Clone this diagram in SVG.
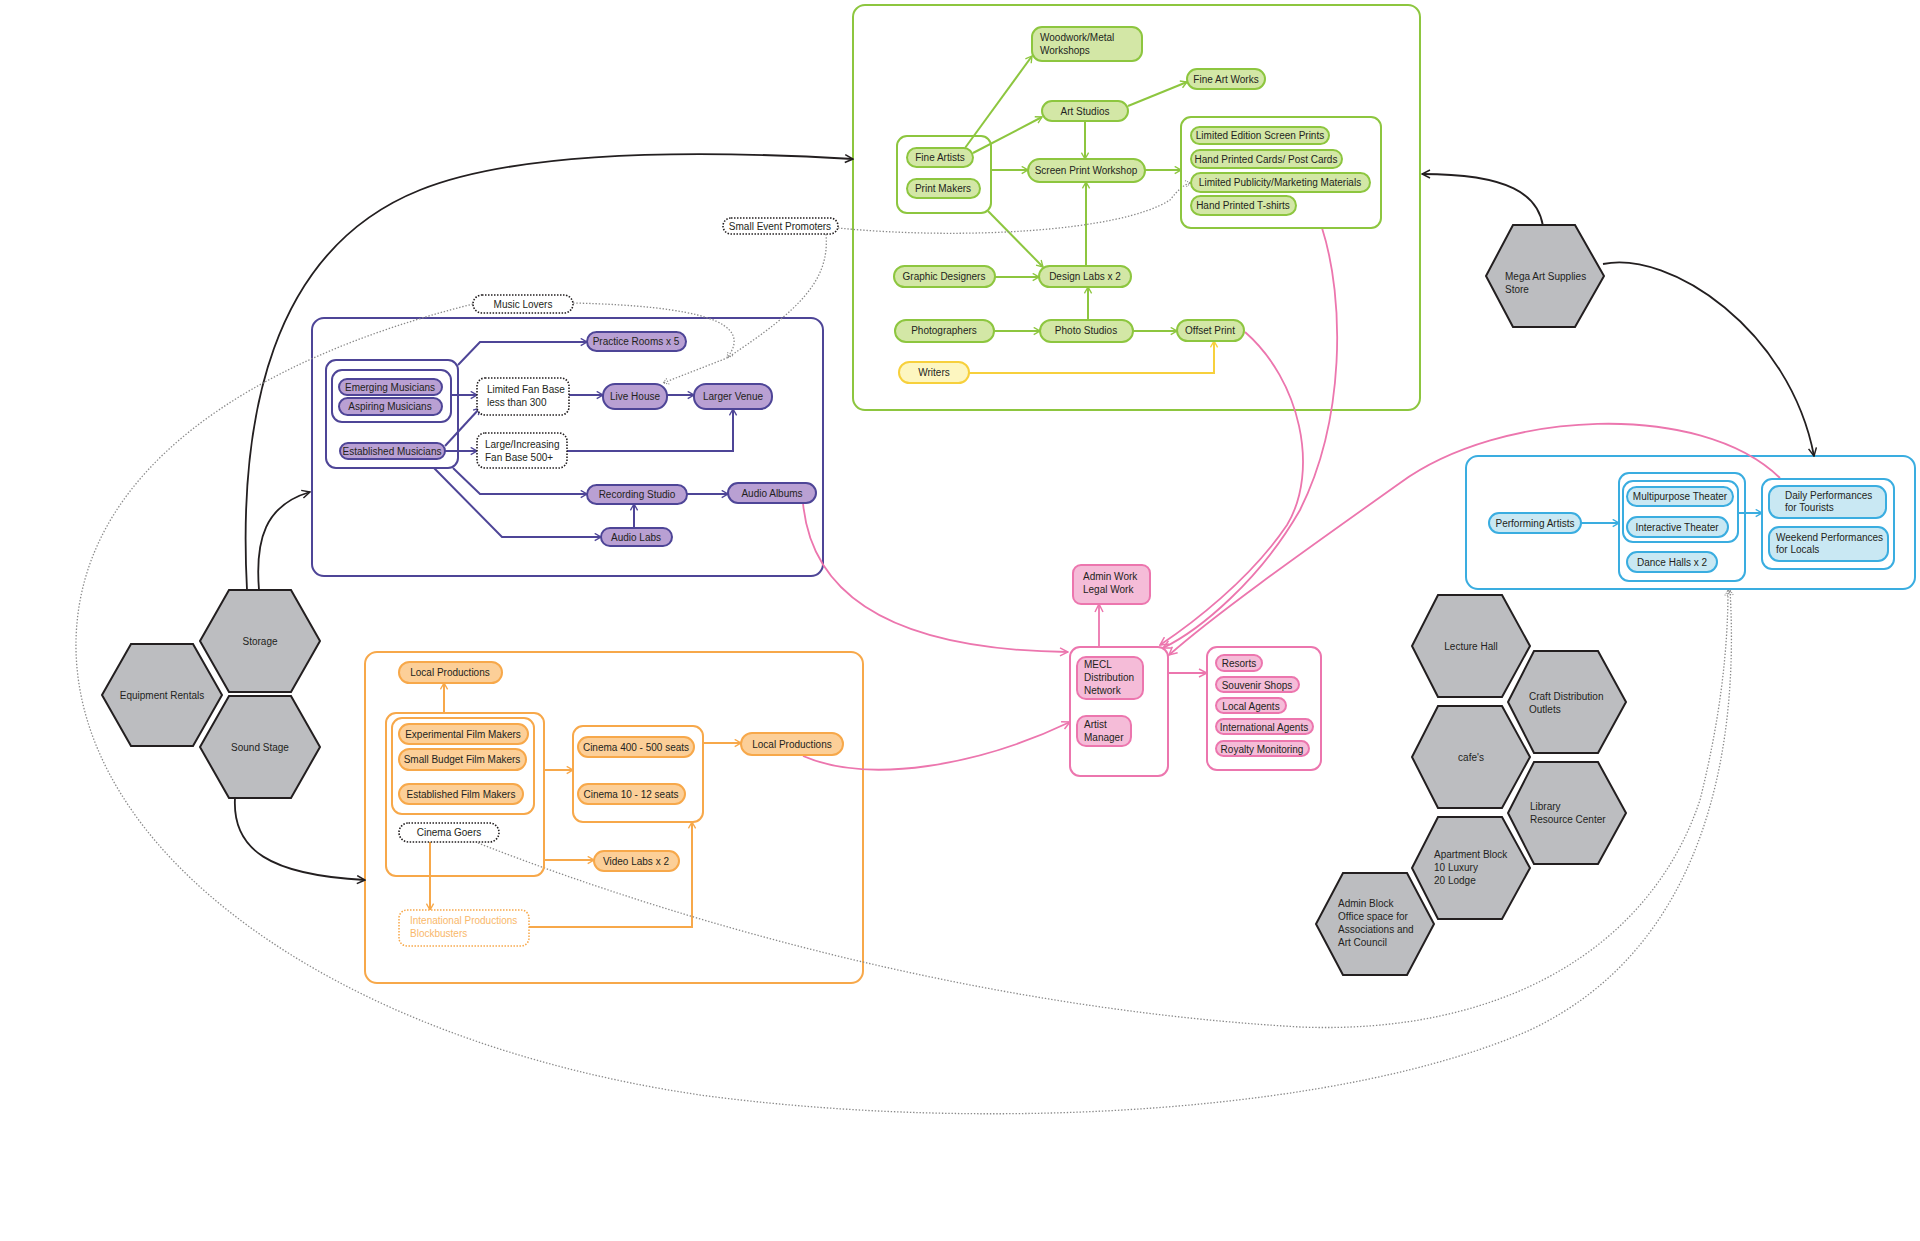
<svg xmlns="http://www.w3.org/2000/svg" width="1920" height="1241" viewBox="0 0 1920 1241">
<style>
.t{font-family:"Liberation Sans",Arial,sans-serif;font-size:10px;fill:#231f20}
.c{text-anchor:middle}
.gb{fill:none;stroke:#8dc63f;stroke-width:2}
.gp{fill:#d3e7a6;stroke:#8dc63f;stroke-width:2}
.yp{fill:#fdf6c0;stroke:#f7d03c;stroke-width:2}
.pb{fill:none;stroke:#4e4597;stroke-width:2}
.pp{fill:#b9a0d3;stroke:#4e4597;stroke-width:2}
.ob{fill:none;stroke:#f7a84a;stroke-width:2}
.op{fill:#fccf98;stroke:#f7a84a;stroke-width:2}
.od{fill:#fff;stroke:#f7a84a;stroke-width:1.5;stroke-dasharray:1.5 1.5}
.kb{fill:none;stroke:#ec76ae;stroke-width:2}
.kp{fill:#f5bcd8;stroke:#ec76ae;stroke-width:2}
.bb{fill:none;stroke:#3aade0;stroke-width:2}
.bp{fill:#c9e8f3;stroke:#3aade0;stroke-width:2}
.dn{fill:#fff;stroke:#231f20;stroke-width:1.6;stroke-dasharray:1.5 1.5}
.hx{fill:#bcbdc0;stroke:#231f20;stroke-width:2}
.lg{fill:none;stroke:#8dc63f;stroke-width:2;marker-end:url(#ag)}
.ly{fill:none;stroke:#f7d03c;stroke-width:2;marker-end:url(#ay)}
.lp{fill:none;stroke:#4e4597;stroke-width:2;marker-end:url(#ap)}
.lo{fill:none;stroke:#f7a84a;stroke-width:2;marker-end:url(#ao)}
.lk{fill:none;stroke:#ec76ae;stroke-width:1.8;marker-end:url(#ak)}
.lb{fill:none;stroke:#3aade0;stroke-width:2;marker-end:url(#ab)}
.lx{fill:none;stroke:#231f20;stroke-width:1.8;marker-end:url(#ax)}
.ld{fill:none;stroke:#8a8a8a;stroke-width:1.3;stroke-dasharray:1.4 1.8;marker-end:url(#ad)}
</style>
<defs>
<marker id="ag" viewBox="0 0 10 10" refX="9" refY="5" markerWidth="9" markerHeight="9" markerUnits="userSpaceOnUse" orient="auto"><path d="M2,1 L9,5 L2,9" fill="none" stroke="#8dc63f" stroke-width="1.5"/></marker>
<marker id="ay" viewBox="0 0 10 10" refX="9" refY="5" markerWidth="9" markerHeight="9" markerUnits="userSpaceOnUse" orient="auto"><path d="M2,1 L9,5 L2,9" fill="none" stroke="#f7d03c" stroke-width="1.5"/></marker>
<marker id="ap" viewBox="0 0 10 10" refX="9" refY="5" markerWidth="9" markerHeight="9" markerUnits="userSpaceOnUse" orient="auto"><path d="M2,1 L9,5 L2,9" fill="none" stroke="#4e4597" stroke-width="1.5"/></marker>
<marker id="ao" viewBox="0 0 10 10" refX="9" refY="5" markerWidth="9" markerHeight="9" markerUnits="userSpaceOnUse" orient="auto"><path d="M2,1 L9,5 L2,9" fill="none" stroke="#f7a84a" stroke-width="1.5"/></marker>
<marker id="ak" viewBox="0 0 10 10" refX="9" refY="5" markerWidth="10" markerHeight="10" markerUnits="userSpaceOnUse" orient="auto"><path d="M1,1 L9,5 L1,9" fill="none" stroke="#ec76ae" stroke-width="1.5"/></marker>
<marker id="ab" viewBox="0 0 10 10" refX="9" refY="5" markerWidth="9" markerHeight="9" markerUnits="userSpaceOnUse" orient="auto"><path d="M2,1 L9,5 L2,9" fill="none" stroke="#3aade0" stroke-width="1.5"/></marker>
<marker id="ax" viewBox="0 0 10 10" refX="9" refY="5" markerWidth="10" markerHeight="10" markerUnits="userSpaceOnUse" orient="auto"><path d="M1,1 L9,5 L1,9" fill="none" stroke="#231f20" stroke-width="1.5"/></marker>
<marker id="ad" viewBox="0 0 10 10" refX="9" refY="5" markerWidth="8" markerHeight="8" markerUnits="userSpaceOnUse" orient="auto"><path d="M2,1 L9,5 L2,9" fill="none" stroke="#8a8a8a" stroke-width="1.3" stroke-dasharray="1.4 1.4"/></marker>
</defs>
<rect x="0" y="0" width="1920" height="1241" fill="#fff"/>

<!-- containers -->
<g id="green-area"><rect class="gb" x="853" y="5" width="567" height="405" rx="12"/></g>
<g id="purple-area"><rect class="pb" x="312" y="318" width="511" height="258" rx="12"/></g>
<g id="orange-area"><rect class="ob" x="365" y="652" width="498" height="331" rx="12"/></g>
<g id="blue-area"><rect class="bb" x="1466" y="456" width="449" height="133" rx="12"/></g>

<!-- connectors -->
<g id="connectors">
<!-- green -->
<path class="lg" d="M965,148 L1032,56"/>
<path class="lg" d="M973,153 L1042,117"/>
<path class="lg" d="M991,170 L1028,170"/>
<path class="lg" d="M1085,121 L1085,159"/>
<path class="lg" d="M1128,106 L1187,82"/>
<path class="lg" d="M988,211 L1043,267"/>
<path class="lg" d="M995,277 L1039,277"/>
<path class="lg" d="M1086,266 L1086,182"/>
<path class="lg" d="M1088,320 L1088,287"/>
<path class="lg" d="M994,331 L1040,331"/>
<path class="lg" d="M1133,331 L1177,331"/>
<path class="lg" d="M1145,170 L1181,170"/>
<path class="ly" d="M969,373 L1214,373 L1214,341"/>
<!-- purple -->
<path class="lp" d="M458,365 L480,342 L587,342"/>
<path class="lp" d="M451,395 L477,395"/>
<path class="lp" d="M445,446 L480,408"/>
<path class="lp" d="M445,451 L477,451"/>
<path class="lp" d="M569,395 L603,395"/>
<path class="lp" d="M667,395 L694,395"/>
<path class="lp" d="M567,451 L733,451 L733,409"/>
<path class="lp" d="M453,468 L480,494 L587,494"/>
<path class="lp" d="M434,468 L502,537 L601,537"/>
<path class="lp" d="M634,528 L634,504"/>
<path class="lp" d="M687,494 L728,494"/>
<!-- orange -->
<path class="lo" d="M444,713 L444,683"/>
<path class="lo" d="M544,770 L573,770"/>
<path class="lo" d="M703,743 L741,743"/>
<path class="lo" d="M544,860 L594,860"/>
<path class="lo" d="M430,842 L430,910"/>
<path class="lo" d="M529,927 L692,927 L692,822"/>
<!-- pink -->
<path class="lk" d="M1099,647 L1099,604"/>
<path class="lk" d="M1168,673 L1207,673"/>
<path class="lk" d="M803,503 C812,600 900,650 1068,652"/>
<path class="lk" d="M803,756 C870,785 980,765 1070,722"/>
<path class="lk" d="M1245,332 C1300,380 1320,470 1287,525 C1250,580 1190,625 1160,645"/>
<path class="lk" d="M1322,228 C1345,300 1345,420 1300,510 C1260,580 1200,630 1163,648"/>
<path class="lk" d="M1780,478 C1700,400 1500,410 1400,483 C1320,540 1220,610 1169,655"/>
<!-- blue -->
<path class="lb" d="M1581,523 L1619,523"/>
<path class="lb" d="M1738,513 L1762,513"/>
<!-- black -->
<path class="lx" d="M1543,226 C1538,195 1510,174 1422,174"/>
<path class="lx" d="M1603,264 C1670,250 1790,330 1814,456"/>
<path class="lx" d="M247,590 C238,420 270,250 420,190 C520,150 700,150 853,159"/>
<path class="lx" d="M259,590 C255,540 265,505 310,492"/>
<path class="lx" d="M235,798 C232,850 270,875 365,880"/>
<!-- dotted -->
<path class="ld" d="M838,228 C960,240 1120,232 1170,200 C1178,190 1184,184 1191,183"/>
<path class="ld" d="M826,234 C830,280 800,310 727,358 L663,383"/>
<path class="ld" d="M573,303 C700,306 755,322 727,358"/>
<path class="ld" d="M473,304 C250,360 80,470 76,640 C72,850 330,1040 700,1095 C1000,1135 1350,1110 1530,1030 C1700,950 1740,760 1730,590"/>
<path class="ld" d="M478,843 C700,930 1000,1010 1300,1027 C1500,1035 1650,950 1700,800 C1720,720 1728,650 1728,590"/>
</g>

<!-- green nodes -->
<g id="woodwork"><rect class="gp" x="1032" y="27" width="110" height="34" rx="10"/><text class="t" x="1040" y="41">Woodwork/Metal</text><text class="t" x="1040" y="54">Workshops</text></g>
<g id="art-studios"><rect class="gp" x="1042" y="101" width="86" height="20" rx="10"/><text class="t c" x="1085" y="115">Art Studios</text></g>
<g id="fine-art-works"><rect class="gp" x="1187" y="69" width="78" height="20" rx="10"/><text class="t c" x="1226" y="83">Fine Art Works</text></g>
<g id="artists-group"><rect class="gb" x="897" y="136" width="94" height="77" rx="10"/></g>
<g id="fine-artists"><rect class="gp" x="907" y="148" width="66" height="19" rx="9.5"/><text class="t c" x="940" y="161">Fine Artists</text></g>
<g id="print-makers"><rect class="gp" x="907" y="179" width="73" height="19" rx="9.5"/><text class="t c" x="943" y="192">Print Makers</text></g>
<g id="screen-print"><rect class="gp" x="1028" y="159" width="117" height="23" rx="11.5"/><text class="t c" x="1086" y="174">Screen Print Workshop</text></g>
<g id="products-group"><rect class="gb" x="1181" y="117" width="200" height="111" rx="10"/></g>
<g id="limited-edition"><rect class="gp" x="1191" y="127" width="138" height="17" rx="8.5"/><text class="t c" x="1260" y="139">Limited Edition Screen Prints</text></g>
<g id="hand-cards"><rect class="gp" x="1191" y="150" width="151" height="18" rx="9"/><text class="t c" x="1266" y="163">Hand Printed Cards/ Post Cards</text></g>
<g id="limited-publicity"><rect class="gp" x="1191" y="173" width="179" height="19" rx="9.5"/><text class="t c" x="1280" y="186">Limited Publicity/Marketing Materials</text></g>
<g id="tshirts"><rect class="gp" x="1191" y="196" width="105" height="19" rx="9.5"/><text class="t c" x="1243" y="209">Hand Printed T-shirts</text></g>
<g id="graphic-designers"><rect class="gp" x="894" y="266" width="101" height="21" rx="10.5"/><text class="t c" x="944" y="280">Graphic Designers</text></g>
<g id="design-labs"><rect class="gp" x="1039" y="266" width="92" height="21" rx="10.5"/><text class="t c" x="1085" y="280">Design Labs x 2</text></g>
<g id="photographers"><rect class="gp" x="895" y="320" width="99" height="22" rx="11"/><text class="t c" x="944" y="334">Photographers</text></g>
<g id="photo-studios"><rect class="gp" x="1040" y="320" width="93" height="22" rx="11"/><text class="t c" x="1086" y="334">Photo Studios</text></g>
<g id="offset-print"><rect class="gp" x="1177" y="320" width="67" height="21" rx="10.5"/><text class="t c" x="1210" y="334">Offset Print</text></g>
<g id="writers"><rect class="yp" x="899" y="362" width="70" height="21" rx="10.5"/><text class="t c" x="934" y="376">Writers</text></g>
<g id="small-event-promoters"><rect class="dn" x="723" y="218" width="115" height="16" rx="8"/><text class="t c" x="780" y="230">Small Event Promoters</text></g>

<!-- purple nodes -->
<g id="music-lovers"><rect class="dn" x="473" y="295" width="100" height="18" rx="9"/><text class="t c" x="523" y="308">Music Lovers</text></g>
<g id="musicians-group"><rect class="pb" x="326" y="360" width="132" height="108" rx="10"/><rect class="pb" x="332" y="370" width="119" height="52" rx="10"/></g>
<g id="emerging"><rect class="pp" x="339" y="379" width="103" height="16" rx="8"/><text class="t c" x="390" y="391">Emerging Musicians</text></g>
<g id="aspiring"><rect class="pp" x="339" y="398" width="103" height="17" rx="8.5"/><text class="t c" x="390" y="410">Aspiring Musicians</text></g>
<g id="established"><rect class="pp" x="340" y="443" width="105" height="16" rx="8"/><text class="t c" x="392" y="455">Established Musicians</text></g>
<g id="practice-rooms"><rect class="pp" x="587" y="332" width="99" height="19" rx="9.5"/><text class="t c" x="636" y="345">Practice Rooms x 5</text></g>
<g id="limited-fan"><rect class="dn" x="477" y="378" width="92" height="37" rx="8"/><text class="t" x="487" y="393">Limited Fan Base</text><text class="t" x="487" y="406">less than 300</text></g>
<g id="live-house"><rect class="pp" x="603" y="384" width="64" height="25" rx="12"/><text class="t c" x="635" y="400">Live House</text></g>
<g id="larger-venue"><rect class="pp" x="694" y="384" width="78" height="25" rx="12"/><text class="t c" x="733" y="400">Larger Venue</text></g>
<g id="large-fan"><rect class="dn" x="477" y="433" width="90" height="35" rx="8"/><text class="t" x="485" y="448">Large/Increasing</text><text class="t" x="485" y="461">Fan Base 500+</text></g>
<g id="recording-studio"><rect class="pp" x="587" y="485" width="100" height="19" rx="9.5"/><text class="t c" x="637" y="498">Recording Studio</text></g>
<g id="audio-albums"><rect class="pp" x="728" y="483" width="88" height="20" rx="10"/><text class="t c" x="772" y="497">Audio Albums</text></g>
<g id="audio-labs"><rect class="pp" x="601" y="528" width="71" height="18" rx="9"/><text class="t c" x="636" y="541">Audio Labs</text></g>

<!-- orange nodes -->
<g id="local-productions-1"><rect class="op" x="399" y="662" width="103" height="21" rx="10.5"/><text class="t c" x="450" y="676">Local Productions</text></g>
<g id="film-group"><rect class="ob" x="386" y="713" width="158" height="163" rx="10"/><rect class="ob" x="392" y="718" width="142" height="96" rx="10"/></g>
<g id="experimental"><rect class="op" x="399" y="724" width="129" height="20" rx="10"/><text class="t c" x="463" y="738">Experimental Film Makers</text></g>
<g id="small-budget"><rect class="op" x="399" y="749" width="127" height="21" rx="10.5"/><text class="t c" x="462" y="763">Small Budget Film Makers</text></g>
<g id="established-film"><rect class="op" x="399" y="784" width="124" height="20" rx="10"/><text class="t c" x="461" y="798">Established Film Makers</text></g>
<g id="cinema-goers"><rect class="dn" x="399" y="823" width="100" height="19" rx="9.5"/><text class="t c" x="449" y="836">Cinema Goers</text></g>
<g id="cinema-group"><rect class="ob" x="573" y="726" width="130" height="96" rx="10"/></g>
<g id="cinema-400"><rect class="op" x="578" y="737" width="116" height="20" rx="10"/><text class="t c" x="636" y="751">Cinema 400 - 500 seats</text></g>
<g id="cinema-10"><rect class="op" x="578" y="784" width="107" height="20" rx="10"/><text class="t c" x="631" y="798">Cinema 10 - 12 seats</text></g>
<g id="local-productions-2"><rect class="op" x="741" y="733" width="102" height="22" rx="11"/><text class="t c" x="792" y="748">Local Productions</text></g>
<g id="video-labs"><rect class="op" x="594" y="851" width="85" height="20" rx="10"/><text class="t c" x="636" y="865">Video Labs x 2</text></g>
<g id="international-productions"><rect class="od" x="399" y="910" width="130" height="36" rx="8"/><text class="t" x="410" y="924" style="fill:#f9b86a">Intenational Productions</text><text class="t" x="410" y="937" style="fill:#f9b86a">Blockbusters</text></g>

<!-- pink nodes -->
<g id="admin-work"><rect class="kp" x="1073" y="565" width="77" height="39" rx="8"/><text class="t" x="1083" y="580">Admin Work</text><text class="t" x="1083" y="593">Legal Work</text></g>
<g id="mecl-group"><rect class="kb" x="1070" y="647" width="98" height="129" rx="10"/></g>
<g id="mecl"><rect class="kp" x="1077" y="657" width="66" height="42" rx="9"/><text class="t" x="1084" y="668">MECL</text><text class="t" x="1084" y="681">Distribution</text><text class="t" x="1084" y="694">Network</text></g>
<g id="artist-manager"><rect class="kp" x="1077" y="716" width="54" height="30" rx="9"/><text class="t" x="1084" y="728">Artist</text><text class="t" x="1084" y="741">Manager</text></g>
<g id="outlets-group"><rect class="kb" x="1207" y="647" width="114" height="123" rx="10"/></g>
<g id="resorts"><rect class="kp" x="1216" y="655" width="46" height="16" rx="8"/><text class="t c" x="1239" y="667">Resorts</text></g>
<g id="souvenir"><rect class="kp" x="1216" y="677" width="83" height="15" rx="7.5"/><text class="t c" x="1257" y="689">Souvenir Shops</text></g>
<g id="local-agents"><rect class="kp" x="1216" y="698" width="70" height="15" rx="7.5"/><text class="t c" x="1251" y="710">Local Agents</text></g>
<g id="international-agents"><rect class="kp" x="1216" y="719" width="97" height="15" rx="7.5"/><text class="t c" x="1264" y="731">International Agents</text></g>
<g id="royalty"><rect class="kp" x="1216" y="741" width="93" height="15" rx="7.5"/><text class="t c" x="1262" y="753">Royalty Monitoring</text></g>

<!-- blue nodes -->
<g id="performing-artists"><rect class="bp" x="1489" y="513" width="92" height="20" rx="10"/><text class="t c" x="1535" y="527">Performing Artists</text></g>
<g id="theater-group"><rect class="bb" x="1619" y="473" width="126" height="108" rx="10"/><rect class="bb" x="1623" y="481" width="115" height="61" rx="10"/></g>
<g id="multipurpose"><rect class="bp" x="1627" y="487" width="106" height="19" rx="9.5"/><text class="t c" x="1680" y="500">Multipurpose Theater</text></g>
<g id="interactive"><rect class="bp" x="1627" y="517" width="101" height="20" rx="10"/><text class="t c" x="1677" y="531">Interactive Theater</text></g>
<g id="dance-halls"><rect class="bp" x="1627" y="552" width="90" height="20" rx="10"/><text class="t c" x="1672" y="566">Dance Halls x 2</text></g>
<g id="performances-group"><rect class="bb" x="1762" y="479" width="132" height="90" rx="10"/></g>
<g id="daily"><rect class="bp" x="1769" y="486" width="117" height="32" rx="10"/><text class="t" x="1785" y="499">Daily Performances</text><text class="t" x="1785" y="511">for Tourists</text></g>
<g id="weekend"><rect class="bp" x="1769" y="527" width="119" height="34" rx="10"/><text class="t" x="1776" y="541">Weekend Performances</text><text class="t" x="1776" y="553">for Locals</text></g>

<!-- hexagons -->
<g id="storage"><polygon class="hx" points="229,590 291,590 320,641 291,692 229,692 200,641"/><text class="t c" x="260" y="645">Storage</text></g>
<g id="equipment-rentals"><polygon class="hx" points="131,644 193,644 222,695 193,746 131,746 102,695"/><text class="t c" x="162" y="699">Equipment Rentals</text></g>
<g id="sound-stage"><polygon class="hx" points="229,696 291,696 320,747 291,798 229,798 200,747"/><text class="t c" x="260" y="751">Sound Stage</text></g>
<g id="mega-art"><polygon class="hx" points="1513,225 1575,225 1604,276 1575,327 1513,327 1486,276"/><text class="t" x="1505" y="280">Mega Art Supplies</text><text class="t" x="1505" y="293">Store</text></g>
<g id="lecture-hall"><polygon class="hx" points="1438,595 1502,595 1530,646 1502,697 1438,697 1412,646"/><text class="t c" x="1471" y="650">Lecture Hall</text></g>
<g id="craft"><polygon class="hx" points="1534,651 1598,651 1626,702 1598,753 1534,753 1508,702"/><text class="t" x="1529" y="700">Craft Distribution</text><text class="t" x="1529" y="713">Outlets</text></g>
<g id="cafes"><polygon class="hx" points="1438,706 1502,706 1530,757 1502,808 1438,808 1412,757"/><text class="t c" x="1471" y="761">cafe's</text></g>
<g id="library"><polygon class="hx" points="1534,762 1598,762 1626,813 1598,864 1534,864 1508,813"/><text class="t" x="1530" y="810">Library</text><text class="t" x="1530" y="823">Resource Center</text></g>
<g id="apartment"><polygon class="hx" points="1438,817 1502,817 1530,868 1502,919 1438,919 1412,868"/><text class="t" x="1434" y="858">Apartment Block</text><text class="t" x="1434" y="871">10 Luxury</text><text class="t" x="1434" y="884">20 Lodge</text></g>
<g id="admin-block"><polygon class="hx" points="1343,873 1407,873 1434,924 1407,975 1343,975 1316,924"/><text class="t" x="1338" y="907">Admin Block</text><text class="t" x="1338" y="920">Office space for</text><text class="t" x="1338" y="933">Associations and</text><text class="t" x="1338" y="946">Art Council</text></g>
</svg>
